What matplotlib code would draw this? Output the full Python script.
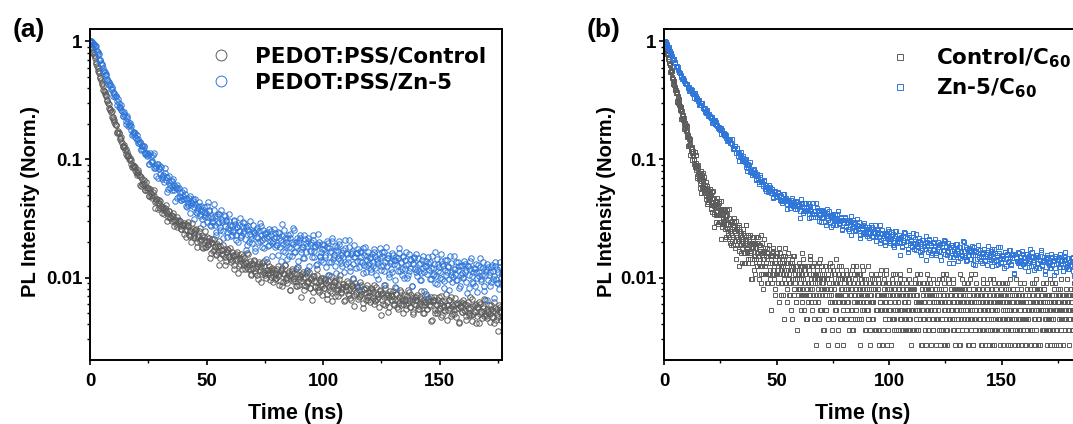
import numpy as np
import matplotlib
matplotlib.use('Agg')
import matplotlib.pyplot as plt
from matplotlib.ticker import LogLocator, NullFormatter, MultipleLocator
from matplotlib.font_manager import FontProperties

# ---------------- data ----------------
# Panel (a): normalised PL stored as value x 10^4, one point every 0.25 ns
T_STEP_A = 0.25
SCALE_A = 1e4
pedot_control = [
    10000, 9760, 9150, 8900, 8700, 8100, 7930, 7740, 7570, 7210, 6730, 6400, 6210, 5980, 5590, 5670,
    5370, 5040, 4910, 4680, 4470, 4390, 4230, 3900, 3800, 3740, 3590, 3530, 3450, 3210, 3100, 3010,
    2950, 2710, 2600, 2670, 2540, 2590, 2300, 2220, 2270, 2150, 2060, 1990, 1960, 1940, 1700, 1690,
    1740, 1680, 1670, 1530, 1490, 1540, 1440, 1390, 1310, 1280, 1320, 1270, 1210, 1110, 1220, 1160,
    1065, 1085, 1060, 1010, 985, 1020, 982, 922, 870, 869, 894, 875, 875, 855, 808, 789,
    769, 738, 809, 789, 743, 724, 607, 596, 706, 688, 621, 623, 629, 674, 550, 553, 650, 575, 546, 576,
    578, 490, 490, 558, 521, 489, 475, 496, 530, 546, 493, 440, 390, 448, 461, 464, 430, 382, 450, 427,
    387, 442, 406, 378, 355, 385, 397, 347, 363, 389, 413, 369, 353, 300, 323, 369, 364, 325, 317, 340,
    329, 299, 335, 349, 274, 302, 306, 307, 284, 269, 325, 303, 285, 306, 300, 271, 258, 260, 281, 276,
    279, 292, 234, 254, 284, 219, 251, 272, 295, 281, 230, 223, 248, 248, 199, 289, 260, 219, 244, 229,
    217, 251, 257, 183, 201, 231, 220, 249, 265, 203, 206, 211, 224, 183, 177, 221, 208, 246, 183, 181,
    220, 202, 193, 189, 203, 216, 146, 161, 201, 195, 212, 169, 170, 212, 185, 180, 158, 156, 191, 184,
    164, 128, 202, 186, 146, 171, 170, 158, 155, 188, 176, 150, 128, 138, 165, 164, 175, 172, 151, 148,
    179, 143, 135, 165, 142, 153, 155, 117, 127, 156, 158, 140, 143, 165, 110, 126, 145, 141, 129, 146,
    157, 118, 133, 151, 146, 127, 118, 135, 132, 160, 123, 119, 159, 127, 117, 137, 107, 104, 133, 129,
    120, 141, 137, 114, 110, 121, 126, 105, 98, 131, 135, 124, 115, 91, 123, 132, 107, 112, 139, 124,
    110, 104, 100, 134, 115, 110, 108, 115, 124, 95, 101, 117, 112, 121, 91, 102, 116, 97, 107, 109,
    99, 118, 124, 102, 107, 87, 93, 113, 115, 120, 85, 92, 109, 107, 128, 128, 99, 95, 89, 101,
    109, 114, 104, 79, 79, 106, 114, 117, 97, 94, 109, 99, 93, 85, 117, 107, 84, 123, 97, 87,
    105, 101, 69, 94, 107, 111, 99, 79, 86, 101, 109, 85, 89, 114, 92, 94, 112, 81, 82, 99,
    97, 64, 76, 102, 103, 93, 83, 85, 92, 106, 117, 83, 79, 75, 95, 94, 86, 99, 71, 85,
    99, 82, 82, 98, 95, 90, 73, 66, 87, 94, 105, 83, 77, 102, 87, 74, 63, 85, 91, 91,
    93, 70, 80, 95, 82, 78, 70, 84, 97, 104, 76, 74, 83, 80, 88, 88, 63, 64, 85, 84,
    78, 94, 90, 73, 71, 79, 82, 67, 64, 87, 84, 82, 98, 57, 71, 89, 75, 73, 85, 83,
    66, 68, 78, 92, 70, 73, 87, 77, 55, 61, 80, 80, 74, 82, 64, 68, 87, 64, 70, 75,
    62, 70, 77, 81, 80, 76, 67, 60, 87, 65, 63, 83, 72, 66, 69, 72, 56, 77, 78, 48,
    73, 74, 64, 60, 87, 69, 59, 82, 71, 62, 73, 71, 51, 56, 68, 77, 72, 65, 64, 70,
    77, 60, 58, 83, 64, 72, 72, 56, 54, 65, 69, 61, 79, 76, 58, 67, 64, 50, 60, 71,
    66, 63, 54, 58, 70, 79, 61, 65, 75, 56, 56, 71, 63, 67, 49, 51, 69, 60, 65, 68,
    58, 64, 71, 54, 54, 57, 61, 69, 77, 66, 58, 50, 65, 62, 50, 58, 62, 73, 54, 54,
    67, 64, 58, 57, 63, 68, 43, 44, 64, 63, 69, 65, 53, 50, 60, 58, 50, 53, 65, 68,
    55, 61, 70, 46, 48, 63, 58, 56, 53, 52, 63, 73, 44, 58, 59, 53, 64, 64, 55, 47,
    68, 60, 49, 57, 53, 49, 60, 67, 46, 54, 61, 60, 55, 42, 41, 57, 57, 62, 51, 51,
    64, 61, 53, 52, 60, 44, 47, 58, 55, 62, 50, 48, 69, 55, 48, 66, 43, 49, 57, 52,
    51, 59, 60, 41, 47, 56, 56, 62, 41, 49, 60, 52, 51, 45, 55, 57, 47, 66, 64, 47,
    49, 54, 45, 51, 52, 59, 49, 42, 58, 54, 46, 46, 52, 62, 41, 52, 55, 44, 49, 54,
    46, 35, 58, 56, 51, 51, 44, 47, 55,
]
pedot_zn5 = [
    9800, 9990, 10000, 9890, 9960, 9450, 9320, 9490, 9220, 9190, 9110, 8440, 8280, 8150, 7880, 7850,
    7020, 6980, 6900, 6590, 6490, 6290, 5940, 5590, 5600, 5490, 5180, 5290, 5160, 4840, 4700, 4625,
    4520, 4290, 4350, 4240, 3950, 4140, 3920, 3730,
    3480, 3660, 3600, 3390, 3480, 3440, 3100, 2880, 3260, 3010, 2760, 2710, 2780, 2910, 2620, 2580,
    2320, 2330, 2520, 2420, 2350, 1990, 2130, 2250, 2340, 2090, 1920, 1940, 1970, 2030, 1910, 1760,
    1620, 1640, 1710, 1700, 1685, 1685, 1550, 1520, 1610, 1450, 1390, 1500, 1390, 1400, 1405, 1205,
    1220, 1325, 1290, 1225, 1310, 1285, 1140, 1105, 1140, 1125, 1080, 1115,
    1100, 924, 919, 1128, 1080, 946, 952, 976, 1084, 1124, 851, 839, 898, 867, 725, 918, 913, 702, 847, 834,
    751, 880, 861, 713, 681, 738, 728, 639, 850, 761, 668, 713, 710, 529, 567, 720, 647, 606, 568, 651,
    660, 546, 581, 679, 603, 556, 443, 572, 587, 472, 612, 563, 494, 571, 528, 482, 452, 451, 535, 495,
    461, 461, 551, 514, 407, 476, 463, 396, 424, 415, 473, 495, 353, 409, 439, 426, 461, 448, 399, 310,
    464, 421, 359, 351, 372, 388, 400, 438, 330, 346, 402, 384, 363, 313, 286, 396, 362, 341, 325, 353,
    406, 297, 326, 434, 372, 365, 279, 272, 329, 322, 296, 294, 416, 375, 279, 329, 243, 228, 331, 343,
    287, 294, 342, 268, 254, 375, 308, 298, 215, 247, 336, 330, 274, 305, 300, 219, 243, 262, 347, 304,
    254, 277, 224, 231, 274, 245, 252, 302, 305, 284, 229, 208, 266, 269, 198, 247, 281, 318, 248, 221,
    228, 275, 296, 236, 250, 289, 211, 170, 267, 259, 190, 271, 252, 198, 303, 235, 223, 212, 197, 276,
    247, 243, 236, 177, 169, 253, 263, 222, 218, 200, 250, 292, 205, 228, 271, 207, 183, 254, 218, 178,
    237, 235, 144, 217, 243, 184, 223, 260, 190, 205, 248, 231, 196, 152, 205, 216, 257, 237, 181, 190,
    220, 187, 156, 241, 240, 214, 180, 137, 208, 226, 283, 193, 167, 253, 216, 166, 190, 201, 143, 217,
    230, 153, 180, 232, 217, 179, 151, 199, 194, 263, 252, 166, 165, 186, 198, 215, 123, 137, 206, 199,
    215, 228, 174, 164, 183, 183, 146, 146, 227, 210, 164, 196, 185, 115, 204, 216, 126, 167, 192, 198,
    169, 150, 208, 227, 148, 167, 184, 181, 128, 131, 191, 188, 233, 199, 150, 153, 164, 140, 194, 173,
    136, 190, 174, 156, 149, 123, 202, 182, 104, 195, 179, 136, 164, 167, 134, 215, 203, 143, 150, 156,
    124, 184, 171, 109, 182, 168, 145, 193, 202, 141, 132, 154, 160, 124, 150, 172, 111, 207, 179, 130,
    162, 159, 134, 145, 209, 182, 122, 114, 157, 162, 167, 129, 99, 189, 150, 150, 162, 120, 138, 162,
    176, 85, 122, 168, 139, 149, 165, 134, 110, 179, 156, 128, 183, 111, 124, 152, 141, 166, 128, 133,
    148, 145, 112, 117, 159, 126, 134, 164, 175, 153, 121, 106, 139, 144, 98, 132, 159, 179, 146, 116,
    124, 153, 164, 128, 113, 164, 134, 86, 182, 146, 126, 155, 147, 107, 101, 132, 137, 118, 112, 162,
    155, 140, 129, 96, 142, 149, 81, 128, 145, 113, 162, 178, 114, 133, 135, 119, 105, 153, 148, 100,
    118, 141, 165, 128, 99, 106, 130, 159, 114, 120, 143, 141, 84, 84, 133, 131, 149, 146, 119, 112,
    158, 116, 103, 145, 113, 131, 133, 96, 96, 109, 141, 151, 121, 112, 77, 125, 126, 139, 107, 70,
    148, 133, 115, 98, 136, 121, 98, 153, 121, 104, 107, 129, 163, 90, 103, 143, 88, 113, 130, 123,
    111, 100, 138, 159, 97, 131, 124, 93, 81, 116, 140, 105, 111, 142, 125, 123, 98, 79, 151, 132,
    106, 112, 91, 101, 117, 152, 107, 117, 135, 95, 96, 134, 116, 124, 82, 84, 125, 105, 109, 127,
    99, 101, 137, 131, 112, 116, 92, 74, 124, 124, 82, 106, 117, 138, 146, 91, 103, 111, 89, 120,
    118, 85, 112, 129, 75, 100, 128, 111, 103, 147, 122, 94, 97, 105, 135, 121, 85, 77, 106, 114,
    117, 131, 64, 95, 123, 105, 111, 84, 92, 122, 128, 114, 97, 67, 102, 126, 134, 98, 89, 117,
    111, 89, 80, 135, 122, 99, 92, 109, 107,
]

# Panel (b): Zn-5/C60 as value x 10^4 every 0.25 ns; Control/C60 as raw photon counts every 0.125 ns
T_STEP_B_ZN = 0.25
SCALE_B_ZN = 1e4
zn5_c60 = [
    9620, 9830, 10000, 9950, 9730, 9440, 9140, 8750, 9020, 8660, 8240, 8100, 7920, 7890, 7530, 7270,
    7040, 7030, 6940, 6730, 6540, 6230, 6130, 6140, 6090, 5730, 5540, 5500, 5370, 5420, 5200, 5000,
    4820, 4860, 4790, 4750, 4650, 4430, 4430, 4400,
    4340, 4340, 4030, 4070, 4150, 3820, 3910, 3940, 3990, 3890, 3630, 3560, 3610, 3570, 3320, 3640,
    3480, 3280, 3330, 3230, 3140, 3220, 3200, 2890, 2920, 2990, 2910, 2980, 2990, 2740, 2720, 2700,
    2710, 2530, 2480, 2590, 2520, 2610, 2360, 2330, 2420, 2340, 2280, 2250, 2260, 2280, 2030, 2060,
    2150, 2120, 2150, 1990, 1960, 2070, 1970, 1930, 1840, 1820, 1900, 1860, 1780, 1650, 1840, 1770,
    1640, 1690, 1660, 1610, 1590, 1650, 1600, 1510, 1440, 1450, 1500, 1480, 1490, 1460, 1390, 1370,
    1490, 1360, 1250, 1230, 1260, 1230, 1290, 1310, 1130, 1240, 1240, 1070, 1140, 1140, 968, 1070,
    1090, 1160, 993, 966, 1078, 1027, 961, 943, 991, 1001, 866, 799, 901, 911, 846, 906, 955, 781,
    790, 814, 736, 763, 809, 830,
    746, 768, 784, 664, 682, 746, 720, 690, 615, 648, 715, 741, 642, 651, 655, 614, 592, 656, 675, 559,
    581, 610, 545, 579, 577, 534, 551, 606, 588, 540, 517, 561, 540, 472, 478, 530, 539, 543, 505, 489,
    482, 488, 533, 520, 491, 496, 455, 444, 495, 455, 430, 505, 474, 449, 509, 459, 444, 473, 419, 382,
    453, 454, 441, 408, 388, 433, 456, 467, 419, 404, 440, 431, 404, 382, 449, 440, 381, 401, 404, 409,
    422, 369, 318, 466, 426, 417, 402, 350, 364, 386, 427, 366, 368, 424, 376, 391, 430, 317, 346, 401,
    383, 365, 324, 345, 397, 424, 342, 366, 365, 328, 430, 389, 324, 370, 366, 304, 341, 336, 298, 367,
    372, 325, 327, 367, 357, 343, 297, 277, 333, 350, 381, 320, 305, 368, 332, 296, 266, 323, 336, 334,
    342, 281, 306, 344, 312, 300, 279, 314, 346, 364, 291, 285, 308, 299, 323, 321, 255, 257, 309, 306,
    289, 327, 321, 274, 268, 288, 297, 258, 249, 306, 300, 294, 333, 229, 263, 307, 274, 268, 296, 290,
    248, 251, 277, 310, 256, 262, 297, 271, 216, 231, 275, 274, 261, 281, 236, 244, 289, 233, 245, 256,
    223, 267, 259, 240, 267, 215, 236, 257, 280, 266, 225, 221, 244, 243, 236, 278, 205, 223, 256, 232,
    241, 251, 219, 196, 276, 237, 207, 254, 233, 216, 239, 224, 188, 201, 224, 235, 233, 260, 213, 202,
    247, 211, 196, 241, 211, 226, 234, 187, 183, 200, 225, 246, 249, 203, 195, 216, 210, 231, 198, 156,
    215, 222, 182, 184, 224, 208, 200, 241, 238, 188, 187, 214, 204, 173, 166, 228, 220, 196, 207, 205,
    186, 180, 222, 239, 176, 210, 194, 171, 235, 193, 186, 181, 204, 218, 163, 198, 193, 154, 171, 207,
    209, 186, 185, 175, 196, 225, 142, 189, 198, 166, 212, 206, 171, 195, 188, 154, 161, 175, 199, 197,
    172, 184, 212, 161, 155, 169, 182, 198, 167, 189, 193, 152, 141, 182, 183, 171, 196, 208, 170, 159,
    203, 186, 156, 167, 164, 195, 180, 133, 148, 180, 187, 187, 169, 149, 132, 169, 174, 157, 156, 191,
    191, 174, 162, 139, 181, 181, 147, 163, 167, 152, 155, 202, 201, 167, 150, 156, 137, 182, 173, 141,
    156, 172, 179, 163, 144, 144, 167, 186, 129, 156, 180, 171, 155, 127, 167, 163, 143, 174, 188, 148,
    150, 171, 137, 151, 159, 132, 150, 165, 174, 174, 140, 139, 157, 157, 128, 185, 165, 143, 150, 150,
    142, 167, 174, 124, 153, 158, 136, 173, 162, 142, 127, 150, 156, 131, 180, 160, 144, 182, 132, 135,
    156, 153, 151, 145, 120, 166, 165, 126, 144, 155, 159, 135, 138, 172, 170, 148, 127, 129, 145, 155,
    155, 108, 109, 158, 158, 147, 149, 138, 133, 166, 162, 134, 137, 124, 141, 149, 167, 158, 130, 137,
    148, 134, 122, 158, 157, 146, 132, 113, 144, 152, 175, 137, 126, 163, 148, 126, 136, 141, 116, 148,
    154, 121, 133, 156, 149, 132, 120, 141, 140, 170, 165, 127, 126, 135, 142, 149, 108, 114, 146, 143,
    149, 155, 132, 127, 136, 136, 120, 120, 157, 149, 128, 142, 138, 105, 147, 153, 111, 131, 141, 144,
    131, 122, 150, 159, 122, 131, 139, 137, 113, 114, 143, 142, 164, 148, 123, 125, 131, 119, 145, 135,
    117, 128, 135, 145, 124, 137, 150, 114, 102,
]
T_STEP_B_CTRL = 0.125
CONTROL_PEAK_COUNTS = 1124
control_c60_counts = [
    1124, 1109, 1044, 1050, 1066, 975, 994, 999, 1006, 973, 897, 871, 881, 864, 792, 873, 825, 763, 771, 738,
    708, 727, 716, 623, 627, 644, 618, 635, 636, 561, 551, 544, 544, 493, 477, 511, 488, 516, 445, 434,
    461, 436, 419, 408, 414, 419, 344, 353, 383, 373, 384, 337, 333, 367, 337, 328, 302, 295, 321, 310,
    287, 249, 311, 291, 251, 268, 263, 249, 242, 267, 252, 226, 203, 207, 227, 222, 228, 221, 200, 195,
    217, 184, 175, 197, 175, 180, 179, 145, 150, 170, 169, 153, 152, 167, 122, 132, 144, 138, 127, 138,
    143, 112, 121, 132, 127, 112, 103, 114, 111, 130, 101, 97, 123, 99, 92, 105, 82, 79, 99, 95,
    87, 100, 96, 80, 77, 83, 86, 71, 65, 87, 89, 81, 74, 58, 78, 83, 66, 69, 86, 76,
    66, 61, 58, 80, 68, 63, 62, 65, 72, 52, 55, 65, 62, 67, 47, 54, 62, 49, 55, 56,
    51, 52, 63, 61, 54, 55, 46, 43, 56, 46, 40, 59, 52, 46, 61, 49, 45, 53, 39, 30,
    49, 49, 46, 38, 33, 44, 50, 53, 41, 38, 47, 45, 38, 32, 50, 48, 33, 38, 39, 41,
    42, 33, 24, 50, 43, 41, 38, 30, 32, 36, 43, 32, 33, 42, 34, 37, 43, 24, 29, 38,
    35, 32, 25, 29, 38, 42, 28, 32, 32, 26, 43, 36, 25, 33, 32, 22, 28, 27, 21, 33,
    34, 29, 26, 23, 31, 25, 21, 33, 28, 30, 36, 20, 23, 28, 28, 25, 16, 34, 29, 21,
    30, 29, 23, 23, 24, 30, 19, 14, 31, 26, 21, 28, 25, 18, 27, 23, 15, 20, 25, 29,
    22, 24, 27, 15, 18, 26, 24, 21, 15, 18, 24, 31, 31, 22, 18, 19, 20, 26, 25, 15,
    16, 23, 21, 21, 18, 16, 26, 26, 11, 19, 22, 22, 20, 11, 15, 20, 25, 23, 17, 16,
    13, 22, 20, 17, 22, 12, 16, 20, 25, 22, 14, 14, 18, 18, 17, 25, 11, 15, 21, 17,
    19, 21, 14, 10, 26, 18, 12, 22, 18, 14, 19, 16, 9, 12, 16, 19, 18, 24, 14, 12,
    20, 17, 12, 15, 15, 20, 18, 10, 10, 17, 17, 12, 21, 21, 12, 15, 15, 11, 13, 17,
    16, 6, 10, 18, 17, 15, 13, 13, 20, 19, 11, 12, 14, 9, 8, 15, 17, 17, 15, 12,
    12, 12, 18, 17, 10, 14, 13, 7, 20, 16, 12, 12, 15, 18, 8, 10, 14, 13, 10, 15,
    16, 8, 12, 17, 14, 11, 5, 13, 15, 20, 17, 10, 10, 12, 13, 15, 9, 7, 15, 13,
    11, 16, 18, 10, 8, 12, 13, 8, 10, 15, 14, 13, 6, 5, 13, 16, 15, 11, 11, 14,
    17, 9, 8, 17, 10, 11, 13, 12, 7, 7, 14, 13, 11, 14, 4, 9, 12, 8, 9, 12,
    15, 13, 10, 9, 14, 6, 8, 12, 11, 14, 9, 7, 18, 11, 8, 16, 6, 8, 13, 10,
    10, 13, 14, 5, 8, 12, 12, 14, 5, 9, 14, 10, 10, 7, 12, 13, 8, 17, 16, 8,
    9, 11, 7, 10, 11, 14, 9, 6, 14, 12, 8, 8, 11, 15, 5, 11, 12, 7, 10, 12,
    8, 3, 14, 13, 10, 11, 7, 9, 12, 15, 5, 8, 11, 6, 16, 12, 9, 14, 6, 9,
    11, 8, 10, 12, 4, 10, 13, 4, 9, 11, 12, 8, 8, 14, 14, 6, 6, 9, 9, 11,
    11, 5, 3, 12, 12, 8, 10, 10, 7, 15, 13, 7, 8, 9, 9, 11, 14, 4, 7, 10,
    10, 13, 5, 7, 12, 9, 7, 6, 10, 12, 16, 10, 6, 3, 10, 13, 8, 8, 4, 11,
    12, 7, 8, 14, 11, 8, 5, 10, 9, 5, 14, 11, 7, 12, 9, 7, 3, 6, 10, 10,
    11, 7, 8, 11, 8, 9, 5, 5, 13, 6, 7, 12, 9, 7, 11, 9, 4, 11, 10, 2,
    8, 10, 12, 5, 6, 8, 9, 13, 4, 6, 10, 10, 14, 4, 7, 12, 8, 8, 11, 9,
    5, 6, 9, 14, 7, 10, 12, 5, 2, 8, 10, 7, 8, 12, 5, 9, 12, 3, 7, 11,
    5, 8, 9, 6, 10, 14, 7, 9, 13, 6, 6, 11, 8, 10, 8, 4, 4, 7, 11, 10,
    9, 8, 6, 5, 14, 6, 5, 10, 9, 9, 10, 4, 3, 8, 8, 7, 9, 12, 7, 5,
    11, 9, 5, 7, 7, 11, 10, 2, 4, 9, 9, 10, 12, 4, 6, 8, 8, 6, 6, 11,
    8, 9, 4, 3, 10, 10, 7, 7, 12, 6, 6, 13, 8, 8, 3, 6, 10, 10, 8, 4,
    6, 9, 11, 8, 5, 5, 7, 12, 13, 7, 6, 9, 9, 3, 4, 8, 8, 10, 5, 6,
    10, 9, 7, 6, 8, 3, 1, 9, 9, 10, 11, 5, 5, 8, 8, 12, 4, 5, 9, 7,
    6, 9, 12, 2, 4, 8, 8, 10, 6, 6, 9, 7, 2, 4, 8, 9, 10, 12, 6, 5,
    11, 8, 5, 6, 6, 10, 8, 4, 4, 8, 9, 5, 7, 11, 2, 7, 8, 4, 5, 9,
    10, 1, 6, 9, 9, 8, 4, 6, 7, 11, 6, 5, 13, 4, 5, 8, 3, 10, 9, 6,
    6, 6, 9, 9, 4, 8, 8, 2, 2, 9, 10, 6, 6, 11, 8, 4, 5, 7, 12, 8,
    6, 4, 4, 10, 7, 6, 6, 7, 10, 12, 5, 5, 7, 7, 3, 9, 9, 3, 6, 8,
    5, 10, 10, 5, 7, 7, 4, 4, 9, 9, 3, 8, 8, 2, 12, 10, 6, 6, 4, 9,
    8, 5, 7, 11, 2, 6, 10, 8, 6, 3, 9, 8, 5, 9, 11, 5, 4, 4, 7, 7,
    8, 6, 1, 9, 9, 8, 7, 3, 5, 5, 10, 10, 5, 5, 6, 7, 11, 9, 4, 1,
    7, 8, 3, 4, 9, 7, 5, 11, 7, 5, 12, 8, 4, 3, 8, 10, 6, 6, 3, 7,
    9, 4, 5, 12, 8, 8, 3, 4, 7, 6, 11, 5, 5, 10, 7, 8, 2, 2, 8, 9,
    9, 6, 6, 5, 6, 11, 4, 7, 10, 4, 5, 9, 7, 8, 9, 3, 2, 6, 8, 9,
    6, 7, 9, 4, 4, 5, 7, 9, 3, 8, 8, 3, 12, 7, 5, 6, 6, 11, 9, 4,
    4, 8, 7, 6, 5, 9, 10, 1, 1, 8, 8, 9, 7, 4, 4, 6, 10, 5, 6, 10,
    3, 7, 8, 3, 9, 8, 5, 6, 11, 5, 4, 12, 7, 7, 6, 5, 3, 9, 9, 3,
    7, 8, 5, 7, 12, 4, 4, 10, 7, 6, 8, 8, 2, 2, 7, 7, 8, 9, 6, 5,
    9, 8, 4, 5, 6, 3, 8, 8, 3, 9, 7, 4, 10, 7, 4, 11, 6, 5, 5, 6,
    7, 8, 3, 2, 8, 7, 6, 9, 10, 5, 4, 6, 6, 3, 2, 8, 8, 11, 7, 4,
    5, 7, 9, 6, 4, 9, 6, 3, 11, 7, 5, 4, 8, 10, 3, 6, 7, 4, 4, 8,
    9, 1, 6, 8, 7, 7, 1, 5, 8, 10, 10, 5, 5, 3, 7, 7, 4, 9, 8, 5,
    5, 5, 10, 8, 3, 7, 6, 2, 5, 8, 8, 6, 2, 10, 7, 4, 9, 6, 5, 7,
    10, 3, 4, 9, 5, 5, 7, 6, 3, 11, 8, 4, 6, 6, 1, 8, 7, 2, 5, 7,
    9, 9, 5, 5, 8, 6, 4, 3, 6, 8, 5, 7, 11, 1, 4, 9, 3, 5, 7, 8,
    5, 4, 8, 10, 4, 6, 7, 7, 2, 3, 9, 7, 5, 8, 7, 5, 4, 4, 10, 6,
    5, 5, 3, 8, 6, 7, 5, 3, 9, 4, 4, 9, 6, 5, 2, 6, 8, 8, 6, 1,
    4, 7, 9, 3, 6, 6, 4, 10, 8, 4, 2, 7, 7, 3, 10, 9, 5, 5, 3, 7,
    7, 4, 6, 11, 2, 8, 9, 3, 5, 6, 8, 5, 5, 9, 9, 7, 3, 2, 6, 8,
    7, 6, 1, 4, 8, 10, 7, 6, 4, 4, 9, 9, 5, 7, 6, 2, 10, 5, 4, 8,
    7, 6, 3, 4, 8, 5, 4, 8, 6, 7, 11, 3, 4, 6, 7, 5, 5, 10, 2, 4,
    8, 7, 5, 5, 7, 9, 3, 1, 6, 7, 10, 8, 4, 3, 6, 6, 1, 4, 7, 9,
    8, 7, 5, 2, 6, 8, 3, 6, 9, 4, 5, 11, 6, 6, 8, 5, 2, 8, 7, 3,
    5, 7, 8, 6, 4, 4, 7, 9, 2, 5, 7, 7, 11, 1, 4, 6, 6, 8, 8, 5,
    3, 8, 6, 5, 5, 2, 9, 7, 1, 8, 7, 4, 6, 6, 4, 10, 9,
]

legend_a = ['PEDOT:PSS/Control', 'PEDOT:PSS/Zn-5']
legend_b = [r'Control/C$_\mathbf{60}$', r'Zn-5/C$_\mathbf{60}$']
xtick_values = [0, 50, 100, 150]
ytick_values = [0.01, 0.1, 1]
ytick_labels = ['0.01', '0.1', '1']

# ---------------- style ----------------
plt.rcParams['font.family'] = ['Liberation Sans', 'DejaVu Sans']
plt.rcParams['font.weight'] = 'bold'
plt.rcParams['mathtext.fontset'] = 'dejavusans'

GRAY = '#5c5c5c'
BLUE = '#2f76d9'

fig = plt.figure(figsize=(10.73, 4.24), dpi=100)
W, H = 1073.0, 424.0
axA = fig.add_axes([90 / W, 1 - 359.5 / H, 412 / W, 330.5 / H])
axB = fig.add_axes([664 / W, 1 - 359.5 / H, 416.6 / W, 330.5 / H])


def series(values, step, scale):
    v = np.asarray(values, dtype=float) / scale
    t = np.arange(len(v)) * step
    keep = v > 0
    return t[keep], v[keep]


tA1, vA1 = series(pedot_control, T_STEP_A, SCALE_A)
tA2, vA2 = series(pedot_zn5, T_STEP_A, SCALE_A)
tB1, vB1 = series(control_c60_counts, T_STEP_B_CTRL, CONTROL_PEAK_COUNTS)
tB2, vB2 = series(zn5_c60, T_STEP_B_ZN, SCALE_B_ZN)

mk = dict(ls='none', mfc='none', mew=0.7)
axA.plot(tA1, vA1, marker='o', ms=3.9, mec=GRAY, label=legend_a[0], **mk)
axA.plot(tA2, vA2, marker='o', ms=3.9, mec=BLUE, label=legend_a[1], **mk)
axB.plot(tB1, vB1, marker='s', ms=3.5, mec=GRAY, label=legend_b[0], **mk)
axB.plot(tB2, vB2, marker='s', ms=3.5, mec=BLUE, label=legend_b[1], **mk)

leg_font = FontProperties(family='DejaVu Sans', weight='bold', size=15.5)
axA.legend(loc='upper left', bbox_to_anchor=(0.293, 0.948), frameon=False, borderpad=0,
           borderaxespad=0, handlelength=1.0, handletextpad=1.06, labelspacing=0.3,
           markerscale=2.0, prop=leg_font)
axB.legend(loc='upper left', bbox_to_anchor=(0.5407, 0.948), frameon=False, borderpad=0,
           borderaxespad=0, handlelength=1.0, handletextpad=1.15, labelspacing=0.3,
           markerscale=1.25, prop=leg_font)

for ax, xmax in ((axA, 176.8), (axB, 185.0)):
    ax.set_yscale('log')
    ax.set_xlim(0, xmax)
    ax.set_ylim(0.00202, 1.274)
    ax.set_xticks(xtick_values)
    ax.set_xticklabels([str(v) for v in xtick_values])
    ax.xaxis.set_minor_locator(MultipleLocator(25))
    ax.set_yticks(ytick_values)
    ax.set_yticklabels(ytick_labels)
    ax.yaxis.set_minor_locator(LogLocator(base=10, subs=np.arange(2, 10), numticks=20))
    ax.yaxis.set_minor_formatter(NullFormatter())
    ax.tick_params(which='both', direction='out', top=False, right=False)
    ax.tick_params(which='major', length=3.5, width=1.2, labelsize=13.5)
    ax.tick_params(which='minor', length=2.0, width=1.0)
    ax.tick_params(axis='x', which='major', pad=6.5)
    ax.tick_params(axis='y', which='major', pad=2)
    for s in ax.spines.values():
        s.set_linewidth(1.4)
    ax.set_xlabel('Time (ns)', fontsize=15.5, fontweight='bold')
    ax.set_ylabel('PL Intensity (Norm.)', fontsize=14.5, fontweight='bold')

axA.xaxis.set_label_coords(0.5, -0.133)
axB.xaxis.set_label_coords(0.4765, -0.133)
axA.yaxis.set_label_coords(-0.1214, 0.4767)
axB.yaxis.set_label_coords(-0.1152, 0.4767)

fig.text(12.7 / W, 1 - 30.5 / H, '(a)', fontsize=19, fontweight='bold', ha='left', va='center')
fig.text(586.7 / W, 1 - 30.5 / H, '(b)', fontsize=19, fontweight='bold', ha='left', va='center')

fig.savefig('out.png', dpi=100)
